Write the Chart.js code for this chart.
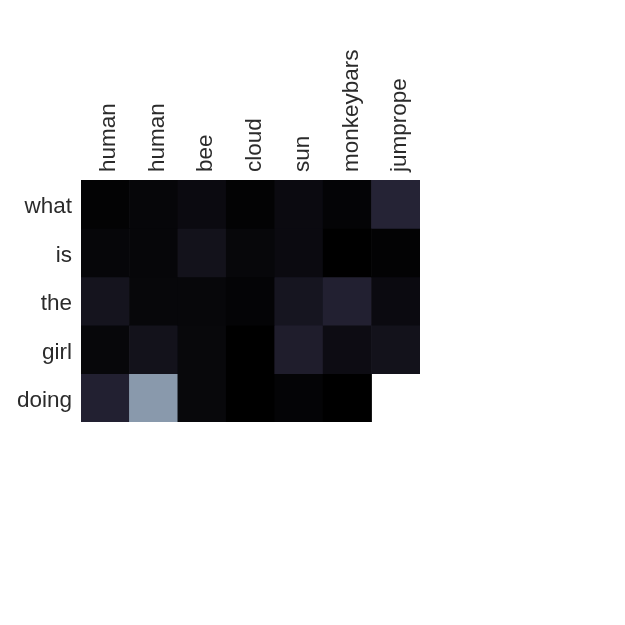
<!DOCTYPE html>
<html>
<head>
<meta charset="utf-8">
<script src="https://cdn.jsdelivr.net/npm/chart.js@4"></script>
<style>
  html, body { margin: 0; padding: 0; background: #fff; }
  #wrap { width: 625px; height: 625px; }
</style>
</head>
<body>
<div id="wrap"><canvas id="heat" width="625" height="625"></canvas></div>
<script>
// 列标签（图像区域）和行标签（问题单词）
const cols = ['human', 'human', 'bee', 'cloud', 'sun', 'monkeybars', 'jumprope'];
const rows = ['what', 'is', 'the', 'girl', 'doing'];

// 每行的注意力权重，null 表示空格
const rowWhat  = [0.013, 0.027, 0.049, 0.013, 0.049, 0.018, 0.166];
const rowIs    = [0.027, 0.027, 0.085, 0.031, 0.049, 0.0,   0.013];
const rowThe   = [0.094, 0.031, 0.031, 0.018, 0.099, 0.152, 0.049];
const rowGirl  = [0.031, 0.085, 0.036, 0.0,   0.139, 0.058, 0.085];
const rowDoing = [0.152, 0.61,  0.036, 0.0,   0.018, 0.0,   null];
const values = [rowWhat, rowIs, rowThe, rowGirl, rowDoing];

// 近似 bone 的色图（偏蓝紫）
const cmapStops = [
  [0, 0, 0, 0],
  [0.166, 37, 35, 53],
  [0.61, 137, 153, 172],
  [1, 255, 255, 255]
];
function colorFor(v) {
  for (let i = 1; i < cmapStops.length; i++) {
    if (v <= cmapStops[i][0]) {
      const a = cmapStops[i - 1], b = cmapStops[i];
      const t = (v - a[0]) / (b[0] - a[0]);
      const c = [1, 2, 3].map(k => Math.round(a[k] + (b[k] - a[k]) * t));
      return `rgb(${c[0]}, ${c[1]}, ${c[2]})`;
    }
  }
  return '#fff';
}

const font = { family: '"Liberation Sans", Arial, sans-serif', size: 22.5 };

const datasets = rows.map((name, r) => ({
  label: name,
  data: values[r].map(v => v === null ? null : [r, r + 1]),
  backgroundColor: values[r].map(v => v === null ? 'rgba(0,0,0,0)' : colorFor(v)),
  borderWidth: 0,
  barPercentage: 1,
  categoryPercentage: 1,
  grouped: false
}));

new Chart(document.getElementById('heat').getContext('2d'), {
  type: 'bar',
  data: { labels: cols, datasets: datasets },
  options: {
    responsive: false,
    animation: false,
    layout: { padding: { left: 0, top: 0, right: 205, bottom: 203 } },
    plugins: {
      legend: { display: false },
      tooltip: { enabled: false }
    },
    scales: {
      x: {
        type: 'category',
        position: 'top',
        grid: { display: false, drawTicks: false },
        border: { display: false },
        ticks: {
          color: '#2b2b2b',
          font: font,
          minRotation: 90,
          maxRotation: 90,
          padding: 8,
          labelOffset: 31,
          autoSkip: false
        },
        afterFit: scale => { scale.height = 180; }
      },
      y: {
        type: 'linear',
        min: 0,
        max: 5,
        reverse: true,
        grid: { display: false, drawTicks: false },
        border: { display: false },
        afterBuildTicks: scale => {
          scale.ticks = rows.map((_, i) => ({ value: i + 0.5 }));
        },
        ticks: {
          color: '#2b2b2b',
          font: font,
          padding: 9,
          labelOffset: 3,
          callback: value => rows[Math.floor(value)]
        },
        afterFit: scale => { scale.width = 81; }
      }
    }
  }
});
</script>
</body>
</html>
